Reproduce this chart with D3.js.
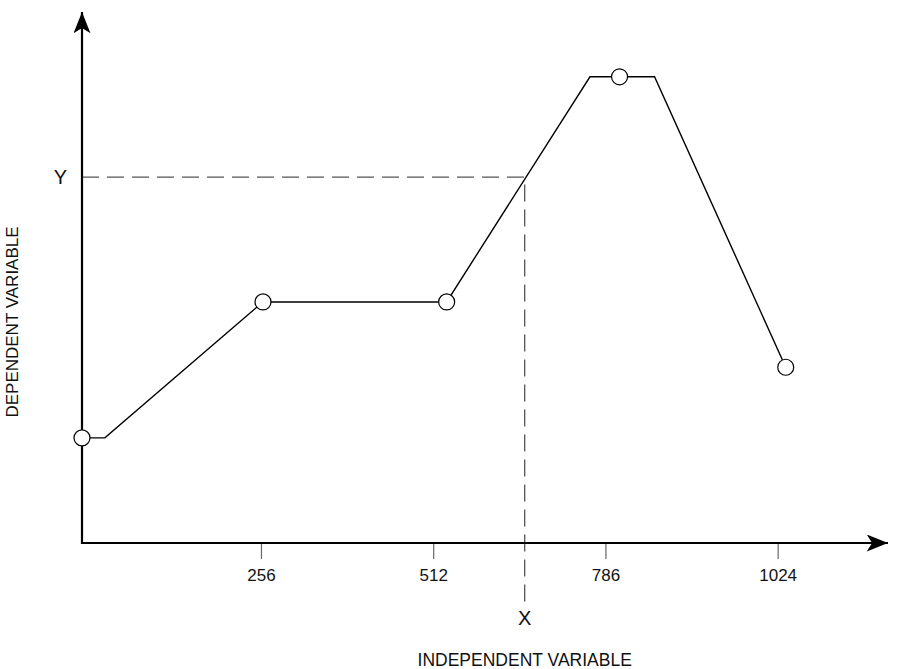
<!DOCTYPE html>
<html>
<head>
<meta charset="utf-8">
<script src="https://cdn.jsdelivr.net/npm/d3@7"></script>
<style>
  body { margin: 0; background: #fff; }
  text { font-family: "Liberation Sans", Arial, Helvetica, sans-serif; fill: #111; }
</style>
</head>
<body>
<div id="chart"></div>
<script>
// ---- data ----
const tickValues = [256, 512, 768, 1024];
const tickLabels = ['256', '512', '786', '1024'];

// polyline vertices (x in independent units, y in dependent units 0..100)
const lineX = [-10, 24, 259, 532, 745, 841, 1036];
const lineY = [19.8, 19.8, 45.4, 45.4, 87.8, 87.8, 33.1];

// sample points drawn as circles
const pointX = [-10, 259, 532, 789, 1036];
const pointY = [19.8, 45.4, 45.4, 87.8, 33.1];

// the read-off point
const markX = 648;
const markY = 68.9;

const xTitle = 'INDEPENDENT VARIABLE';
const yTitle = 'DEPENDENT VARIABLE';

// ---- layout ----
const width = 899, height = 669;
const origin = {x: 82, y: 543};

const svg = d3.select('#chart').append('svg')
  .attr('width', width)
  .attr('height', height);

const xScale = d3.scaleLinear().domain([-10, 1188]).range([origin.x, 888]);
const yScale = d3.scaleLinear().domain([0, 100]).range([origin.y, 12]);

// arrow heads
const defs = svg.append('defs');
defs.append('marker')
    .attr('id', 'arrow')
    .attr('viewBox', '0 0 20 16')
    .attr('refX', 20)
    .attr('refY', 8)
    .attr('markerUnits', 'userSpaceOnUse')
    .attr('markerWidth', 22)
    .attr('markerHeight', 17)
    .attr('orient', 'auto')
  .append('path')
    .attr('d', 'M0,0L20,8L0,16L5,8Z')
    .attr('fill', '#000');

// ---- dashed read-off lines ----
svg.append('path')
  .attr('d', `M${xScale(-10)},${yScale(markY)}H${xScale(markX)}V${605}`)
  .attr('fill', 'none')
  .attr('stroke', '#555')
  .attr('stroke-width', 1.3)
  .attr('stroke-dasharray', '17,8');

// ---- axes ----
const xAxis = d3.axisBottom(xScale)
  .tickValues(tickValues)
  .tickFormat((d, i) => tickLabels[i])
  .tickSize(16)
  .tickSizeOuter(0)
  .tickPadding(10);

svg.append('g')
  .attr('transform', `translate(0,${origin.y})`)
  .call(xAxis)
  .call(g => g.select('.domain').remove())
  .call(g => g.selectAll('.tick line').attr('stroke', '#666').attr('stroke-width', 1.2))
  .call(g => g.selectAll('.tick text')
    .attr('font-size', 17)
    .attr('font-family', '"Liberation Sans", Arial, sans-serif')
    .attr('fill', '#111'));

const yAxis = d3.axisLeft(yScale)
  .tickValues([markY])
  .tickFormat(() => 'Y')
  .tickSize(0)
  .tickPadding(15);

svg.append('g')
  .attr('transform', `translate(${origin.x},0)`)
  .call(yAxis)
  .call(g => g.select('.domain').remove())
  .call(g => g.selectAll('.tick text')
    .attr('font-size', 20)
    .attr('font-family', '"Liberation Sans", Arial, sans-serif')
    .attr('fill', '#111'));

svg.append('line')
  .attr('x1', origin.x).attr('y1', origin.y)
  .attr('x2', xScale.range()[1]).attr('y2', origin.y)
  .attr('stroke', '#000')
  .attr('stroke-width', 2.2)
  .attr('marker-end', 'url(#arrow)');

svg.append('line')
  .attr('x1', origin.x).attr('y1', origin.y + 1)
  .attr('x2', origin.x).attr('y2', yScale.range()[1])
  .attr('stroke', '#000')
  .attr('stroke-width', 2.2)
  .attr('marker-end', 'url(#arrow)');

// "X" under the read-off line
svg.append('text')
  .attr('x', xScale(markX))
  .attr('y', 625)
  .attr('text-anchor', 'middle')
  .attr('font-size', 20)
  .text('X');

// ---- data line and points ----
const lineData = lineX.map((x, i) => ({x, y: lineY[i]}));
const pointData = pointX.map((x, i) => ({x, y: pointY[i]}));

svg.append('path')
  .datum(lineData)
  .attr('d', d3.line().x(d => xScale(d.x)).y(d => yScale(d.y)))
  .attr('fill', 'none')
  .attr('stroke', '#000')
  .attr('stroke-width', 1.4);

svg.selectAll('.pt')
  .data(pointData)
  .join('circle')
  .attr('class', 'pt')
  .attr('cx', d => xScale(d.x))
  .attr('cy', d => yScale(d.y))
  .attr('r', 8)
  .attr('fill', '#fff')
  .attr('stroke', '#000')
  .attr('stroke-width', 1.2);

// ---- axis titles ----
svg.append('text')
  .attr('x', xScale(markX))
  .attr('y', 666)
  .attr('text-anchor', 'middle')
  .attr('font-size', 17.5)
  .text(xTitle);

svg.append('text')
  .attr('transform', `translate(18,${322}) rotate(-90)`)
  .attr('text-anchor', 'middle')
  .attr('font-size', 17)
  .text(yTitle);
</script>
</body>
</html>
